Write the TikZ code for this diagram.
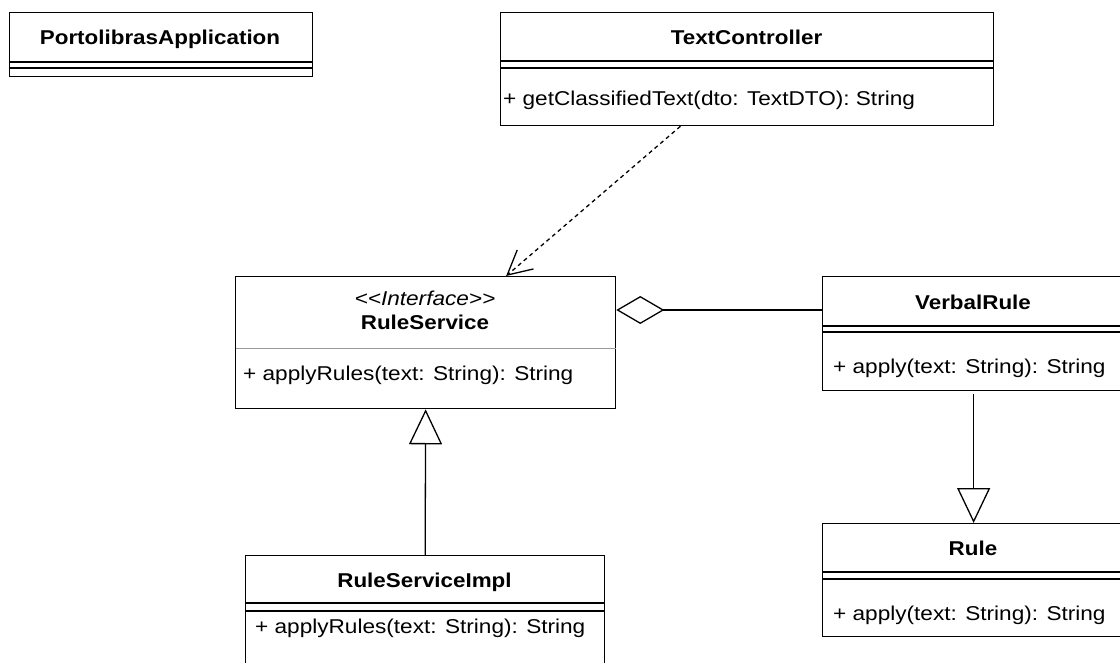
\documentclass[tikz,border=0pt]{standalone}
\usepackage{fontspec}
\setmainfont{Liberation Sans}[FakeStretch=1.13, BoldFeatures={FakeStretch=1.12}]
\usetikzlibrary{arrows.meta,calc}
\tikzset{
  cls/.style={draw=black, line width=1.3pt, rectangle, inner sep=0pt, anchor=north west, fill=white},
  sepline/.style={draw=black, line width=1.3pt},
  thinsep/.style={draw=black!40, line width=0.9pt},
  ttl/.style={anchor=base, inner sep=0pt, font=\fontsize{20}{24}\selectfont\bfseries},
  stereo/.style={anchor=base, inner sep=0pt, font=\fontsize{20}{24}\selectfont\itshape},
  meth/.style={anchor=base west, inner sep=0pt, font=\fontsize{20}{24}\selectfont},
  conn/.style={draw=black, line width=1.3pt},
  dep/.style={conn, dash pattern=on 4pt off 3.5pt, -{Straight Barb[length=24pt,width=25pt,line width=1.3pt]}},
  gen/.style={conn, -{Triangle[open,length=35pt,width=33pt,line width=1.3pt]}},
  agg/.style={conn, {Diamond[open,length=48pt,width=28pt,line width=1.3pt]}-},
}
\begin{document}
\begin{tikzpicture}[x=1pt,y=-1pt]
\useasboundingbox (0,0) rectangle (1120,663);
\fill[white] (0,0) rectangle (1120,663);
\clip (0,0) rectangle (1120,663);

% PortolibrasApplication
\node[cls, minimum width=303.5pt, minimum height=64pt] (pa) at (8.5,12) {};
\node[ttl] (pat) at (160,45) {PortolibrasApplication};
\draw[sepline] ($(pa.north west)+(0,50)$) -- ($(pa.north east)+(0,50)$);
\draw[sepline] ($(pa.north west)+(0,56)$) -- ($(pa.north east)+(0,56)$);

% TextController
\node[cls, minimum width=493pt, minimum height=113pt] (tc) at (500,12) {};
\node[ttl] (tct) at (746.5,45) {TextController};
\draw[sepline] ($(tc.north west)+(0,49)$) -- ($(tc.north east)+(0,49)$);
\draw[sepline] ($(tc.north west)+(0,56)$) -- ($(tc.north east)+(0,56)$);
\node[meth] (tcm) at (503,106) {+ getClassifiedText(dto: TextDTO): String};

% RuleService
\node[cls, minimum width=380pt, minimum height=132pt] (rs) at (235,276) {};
\node[stereo] (rss) at (425,305.5) {{<}{<}Interface{>}{>}};
\node[ttl] (rst) at (425,330) {RuleService};
\draw[thinsep] ($(rs.north west)+(0.7,72)$) -- ($(rs.north east)+(-0.7,72)$);
\node[meth] (rsm) at (243,381) {+ applyRules(text: String): String};

% VerbalRule
\node[cls, minimum width=302pt, minimum height=114pt] (vr) at (822,276) {};
\node[ttl] (vrt) at (973,310) {VerbalRule};
\draw[sepline] ($(vr.north west)+(0,50)$) -- ($(vr.north east)+(0,50)$);
\draw[sepline] ($(vr.north west)+(0,56)$) -- ($(vr.north east)+(0,56)$);
\node[meth] (vrm) at (833,373) {+ apply(text: String): String};

% Rule
\node[cls, minimum width=302pt, minimum height=113pt] (r) at (822,523) {};
\node[ttl] (rt) at (973,555) {Rule};
\draw[sepline] ($(r.north west)+(0,49)$) -- ($(r.north east)+(0,49)$);
\draw[sepline] ($(r.north west)+(0,56)$) -- ($(r.north east)+(0,56)$);
\node[meth] (rm) at (833,620) {+ apply(text: String): String};

% RuleServiceImpl
\node[cls, minimum width=359pt, minimum height=135pt] (rsi) at (245,555) {};
\node[ttl] (rsit) at (424.5,587) {RuleServiceImpl};
\draw[sepline] ($(rsi.north west)+(0,48)$) -- ($(rsi.north east)+(0,48)$);
\draw[sepline] ($(rsi.north west)+(0,56)$) -- ($(rsi.north east)+(0,56)$);
\node[meth] (rsim) at (255,633) {+ applyRules(text: String): String};

% connectors
\draw[dep] ($(tc.south west)!0.365!(tc.south east)$) -- ($(rs.north west)!0.711!(rs.north east)$);
\coordinate (aggy) at ($(vr.north west)+(0,34)$);
\draw[agg] (rs.east |- aggy) -- (aggy);
\draw[gen] ($(vr.south)+(0,3)$) -- (r.north);
\draw[gen] (rsi.north) -- (rs.south);
\end{tikzpicture}
\end{document}
